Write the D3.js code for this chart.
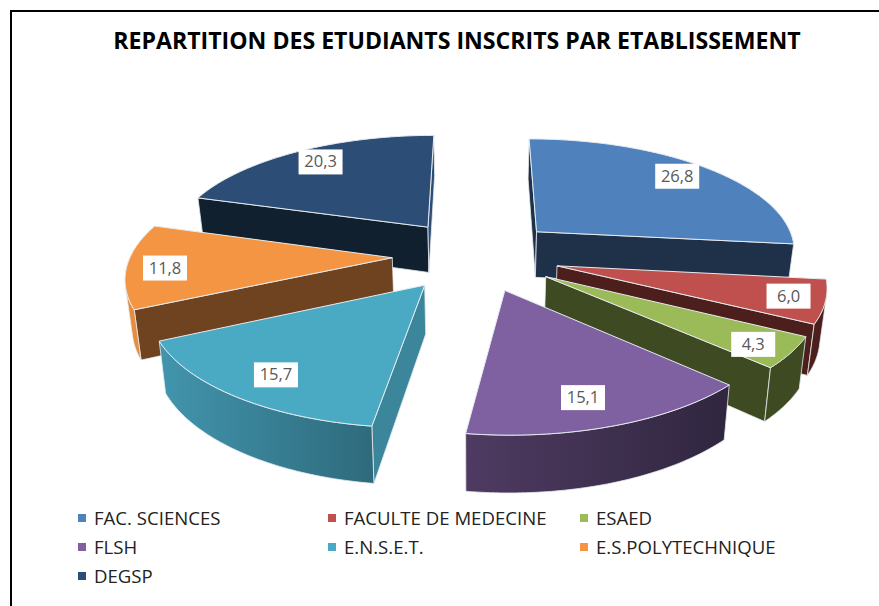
<!DOCTYPE html>
<html><head><meta charset="utf-8">
<script src="https://cdn.jsdelivr.net/npm/d3@7"></script>
<style>html,body{margin:0;padding:0;background:#fff}svg{display:block;font-family:"Open Sans",sans-serif}</style>
</head><body><svg id="c" width="879" height="606"></svg>
<script>
const categories = ["FAC. SCIENCES","FACULTE DE MEDECINE","ESAED","FLSH","E.N.S.E.T.","E.S.POLYTECHNIQUE","DEGSP"];
const values = [26.8,6.0,4.3,15.1,15.7,11.8,20.3];
const topColors = ["#4f81bd","#c0504d","#9bbb59","#7f60a0","#4aaac4","#f39542","#2c4d75"];
const startFaceColors = ["#1f3149","#4c1e1c","#3e4a22","#30263f","#3c869c","#6f4220","#11202f"];
const endFaceColors = ["#1f3149","#4c1e1c","#3e4a22","#30263f","#3c869c","#6f4220","#2c4d75"];
const outerLeftColors = ["#1f3149","#4c1e1c","#3e4a22","#4f3b62","#4295ad","#e58c3e","#11202f"];
const outerRightColors = ["#1f3149","#4c1e1c","#3e4a22","#30263f","#2e6a7c","#e58c3e","#11202f"];
// small manual label placement offsets (px), as in the reference's best-fit layout
const labelNudgeX = [-4,5,2,-13,9,-2,5];
const labelNudgeY = [0,0,4,-5,-3,3,0];

const W=879,H=606;
const cx=476, cy=255, explode=0.32, persp=0.144, depth=47, labelAt=0.85, convergeBottom=0.98;
const scaleX=d3.scaleLinear().domain([-1,1]).range([cx-261.5,cx+261.5]);
const scaleY=d3.scaleLinear().domain([-1,1]).range([cy+112.4,cy-112.4]);
const project=(X,Y,bottom)=>{
  const k=1+persp*Y;
  const sx=scaleX(X/k), sy=scaleY(Y/k);
  return bottom?[cx+(sx-cx)*convergeBottom, sy+depth/k]:[sx,sy];
};
const svg=d3.select("#c");
const defs=svg.append("defs");
const line=d3.line().curve(d3.curveLinear);
const facesViewer=q=>d3.polygonArea(q)>0;

// frame
svg.append("path").attr("d",line([[W,11],[11,11],[11,H]])).attr("fill","none").attr("stroke","#000").attr("stroke-width",2);

// title
svg.append("text").attr("x",457).attr("y",49).attr("text-anchor","middle")
  .attr("font-size",23.1).attr("font-weight",700).attr("fill","#000").text("REPARTITION DES ETUDIANTS INSCRITS PAR ETABLISSEMENT");

const arcs=d3.pie().sort(null).value(d=>d)(values).map((a,i)=>{
  const mid=(a.startAngle+a.endAngle)/2;
  const ox=explode*Math.sin(mid), oy=explode*Math.cos(mid);
  return {i,a0:a.startAngle,a1:a.endAngle,mid,ox,oy};
});
const edgeStroke="#e6ebf0";
const drawOrder=arcs.slice().sort((p,q)=>d3.descending(p.oy,q.oy));
drawOrder.forEach(s=>{
  const g=svg.append("g");
  const rim=(t)=>[s.ox+Math.sin(t),s.oy+Math.cos(t)];
  const apex=[s.ox,s.oy];
  const n=60;
  const ts=d3.range(n+1).map(k=>s.a0+(s.a1-s.a0)*k/n);
  const quad=(u,v)=>[project(u[0],u[1],false),project(v[0],v[1],false),project(v[0],v[1],true),project(u[0],u[1],true)];
  const face=(u,v,fill)=>{
    const q=quad(u,v);
    if(!facesViewer(q)) return;
    g.append("path").attr("d",line(q)+"Z").attr("fill",fill).attr("stroke",edgeStroke).attr("stroke-width",0.8);
  };
  face(apex,rim(s.a0),startFaceColors[s.i]);
  face(rim(s.a1),apex,endFaceColors[s.i]);
  // outer wall: only the part turned to the viewer
  const front=[];
  for(let k=0;k<n;k++){
    const u=rim(ts[k]),v=rim(ts[k+1]);
    if(facesViewer(quad(u,v))){ if(!front.length) front.push(u); front.push(v); }
  }
  if(front.length>1){
    const t=front.map(p=>project(p[0],p[1],false));
    const b=front.map(p=>project(p[0],p[1],true)).reverse();
    const poly=t.concat(b);
    const [x0,x1]=d3.extent(poly,p=>p[0]);
    const id="wall"+s.i;
    const gr=defs.append("linearGradient").attr("id",id).attr("gradientUnits","userSpaceOnUse")
      .attr("x1",x0).attr("x2",x1).attr("y1",0).attr("y2",0);
    gr.append("stop").attr("offset",0).attr("stop-color",outerLeftColors[s.i]);
    gr.append("stop").attr("offset",1).attr("stop-color",outerRightColors[s.i]);
    g.append("path").attr("d",line(poly)+"Z").attr("fill",`url(#${id})`).attr("stroke",edgeStroke).attr("stroke-width",0.8);
  }
  // top surface
  const topPts=[project(apex[0],apex[1],false)].concat(ts.map(t=>{const p=rim(t);return project(p[0],p[1],false);}));
  g.append("path").attr("d",line(topPts)+"Z").attr("fill",topColors[s.i]).attr("stroke",edgeStroke).attr("stroke-width",1);
});

// data labels
const fmt=v=>v.toFixed(1).replace(".",",");
arcs.forEach(s=>{
  const X=s.ox+labelAt*Math.sin(s.mid), Y=s.oy+labelAt*Math.cos(s.mid);
  const [px,py]=project(X,Y,false);
  const x=px+labelNudgeX[s.i], y=py+labelNudgeY[s.i];
  svg.append("rect").attr("x",x-22).attr("y",y-12.5).attr("width",44).attr("height",25).attr("fill","#fff");
  svg.append("text").attr("x",x).attr("y",y+5.5).attr("text-anchor","middle").attr("font-size",16.5).attr("fill","#595959").text(fmt(values[s.i]));
});

// legend
const legendCols=d3.scaleOrdinal().domain([0,1,2]).range([78,328,580]);
const legendRows=d3.scaleLinear().domain([0,2]).range([518,576]);
categories.forEach((c,i)=>{
  const col=i%3,row=Math.floor(i/3);
  const lx=legendCols(col),ly=legendRows(row);
  svg.append("rect").attr("x",lx).attr("y",ly-4).attr("width",8).attr("height",8).attr("fill",topColors[i]);
  svg.append("text").attr("x",lx+16).attr("y",ly+6.5).attr("font-size",18.6).attr("fill","#222").text(c);
});
</script></body></html>
